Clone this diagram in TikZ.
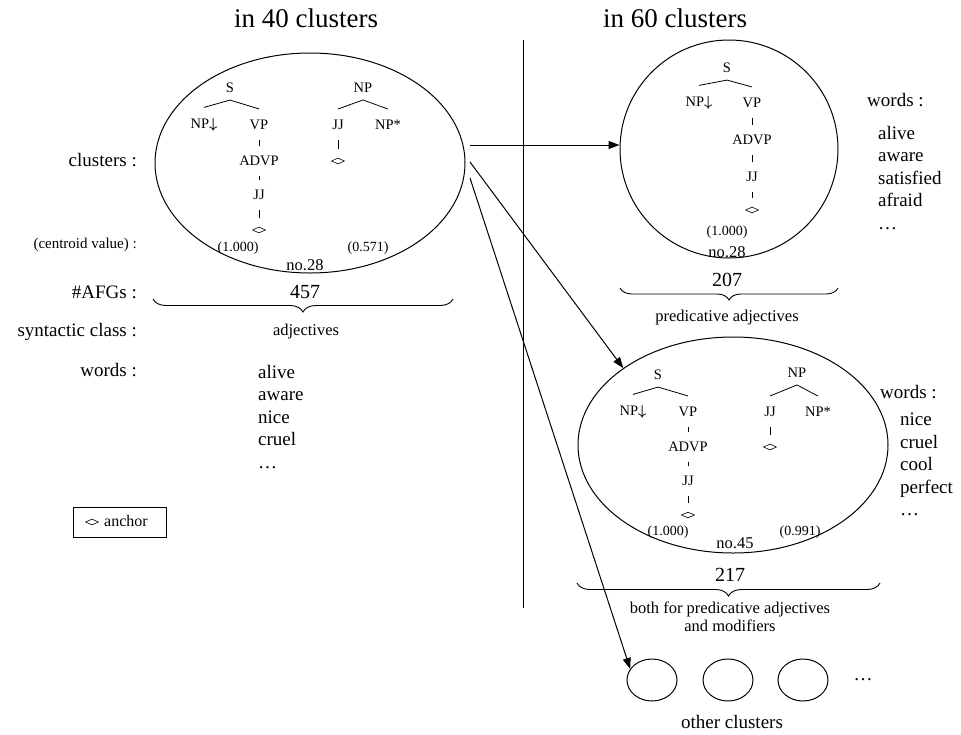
\documentclass[tikz,border=0pt]{standalone}
\usepackage{amsmath}
\usepackage{fontspec}
\setmainfont{Liberation Serif}
\usetikzlibrary{shapes.geometric,arrows.meta,decorations.pathreplacing}

\newcommand{\subst}{$\boldsymbol{\downarrow}$}

\tikzset{
  tl/.style={inner sep=1pt, font=\fontsize{14.5}{16}\selectfont},
  cv/.style={inner sep=1pt, font=\fontsize{14}{16}\selectfont},
  nolbl/.style={inner sep=1pt, font=\fontsize{16.5}{18}\selectfont},
  lbl/.style={anchor=east, inner sep=0pt, font=\fontsize{19}{22}\selectfont},
  txt/.style={inner sep=0pt, font=\fontsize{19}{22}\selectfont},
  num/.style={inner sep=0pt, font=\fontsize{20}{22}\selectfont},
  cls/.style={inner sep=0pt, align=center, font=\fontsize{16.5}{18.5}\selectfont},
  wlist/.style={anchor=north west, inner sep=0pt, align=left, font=\fontsize{19}{22.5}\selectfont},
  anc/.style={diamond, draw, aspect=2.4, minimum width=13pt, minimum height=6pt, inner sep=0pt, line width=0.6pt},
  roof/.style={line width=0.8pt},
  tick/.style={line width=0.6pt, shorten >=9pt, shorten <=9pt},
  clus/.style={ellipse, draw, line width=1pt, inner sep=0pt},
  brc/.style={decorate, decoration={brace, mirror, amplitude=13pt}, line width=0.9pt},
  arr/.style={-{Triangle[length=11pt,width=8pt]}, line width=1pt},
}

\begin{document}
\begin{tikzpicture}[x=1pt,y=-1pt]
\useasboundingbox (0,0) rectangle (961,734);

% titles and divider
\node[font=\fontsize{27}{30}\selectfont] (t40) at (306,18) {in 40 clusters};
\node[font=\fontsize{27}{30}\selectfont] (t60) at (675,18) {in 60 clusters};
\draw[line width=1pt] (523,40) -- (523,608);

% row labels
\node[lbl] (lclus) at (137,160) {clusters :};
\node[lbl, font=\fontsize{15}{17}\selectfont] (lcent) at (137,245) {(centroid value) :};
\node[lbl] (lafg) at (137,292) {\#AFGs :};
\node[lbl] (lsyn) at (137,332) {syntactic class :};
\node[lbl] (lwords) at (137,370) {words :};

% cluster no.28 of 40
\node[clus, minimum width=310pt, minimum height=220pt] (c40) at (310,163) {};
\node[tl] (s1) at (230,88) {S};
\node[tl] (npa1) at (204,125) {NP\subst};
\node[tl] (vp1) at (259,125) {VP};
\node[tl] (advp1) at (259,161) {ADVP};
\node[tl] (jj1) at (259,195) {JJ};
\node[anc] (an1) at (259,230) {};
\draw[roof] ([yshift=10pt]npa1.north) -- ([yshift=-6pt]s1.south) -- ([yshift=10pt]vp1.north);
\draw[tick] (vp1) -- (advp1);
\draw[tick] (advp1) -- (jj1);
\draw[tick] (jj1) -- (an1);
\node[tl] (np1) at (363,88) {NP};
\node[tl] (jj1b) at (338,125) {JJ};
\node[tl] (nps1) at (388,125) {NP*};
\node[anc] (an1b) at (338,161) {};
\draw[roof] ([yshift=10pt]jj1b.north) -- ([yshift=-6pt]np1.south) -- ([yshift=10pt]nps1.north);
\draw[tick] (jj1b) -- (an1b);
\node[cv] (cv1) at (238,248) {(1.000)};
\node[cv] (cv1b) at (368,248) {(0.571)};
\node[nolbl] (no1) at (305,265) {no.28};

\node[num] (n457) at (305,292) {457};
\draw[brc] (153,299) -- (453,299);
\node[cls] (adj) at (306,332) {adjectives};
\node[wlist] (w40) at (258,365) {alive\\aware\\nice\\cruel\\\ldots};

% legend
\node[draw, line width=0.8pt, minimum width=93pt, minimum height=30pt] (lgbox) at (119.5,522) {};
\node[anc] (lgd) at (92,522) {};
\node[anchor=west, inner sep=0pt, font=\fontsize{16}{18}\selectfont] (lgt) at (104,521) {anchor};

% cluster no.28 of 60
\node[clus, minimum width=218pt, minimum height=218pt] (c60a) at (729,149) {};
\node[tl] (s2) at (727,68) {S};
\node[tl] (npa2) at (699,103) {NP\subst};
\node[tl] (vp2) at (752,103) {VP};
\node[tl] (advp2) at (752,140) {ADVP};
\node[tl] (jj2) at (752,177) {JJ};
\node[anc] (an2) at (752,210) {};
\draw[roof] ([yshift=10pt]npa2.north) -- ([yshift=-6pt]s2.south) -- ([yshift=10pt]vp2.north);
\draw[tick] (vp2) -- (advp2);
\draw[tick] (advp2) -- (jj2);
\draw[tick] (jj2) -- (an2);
\node[cv] (cv2) at (727,232) {(1.000)};
\node[nolbl] (no2) at (727,252) {no.28};
\node[num] (n207) at (727,280) {207};
\draw[brc, decoration={amplitude=12pt}] (620,288) -- (838,288);
\node[cls] (pred) at (727,318) {predicative adjectives};
\node[txt, anchor=west] (wa) at (867,100) {words :};
\node[wlist] (w60a) at (878,126) {alive\\aware\\satisfied\\afraid\\\ldots};

% cluster no.45 of 60
\node[clus, minimum width=310pt, minimum height=216pt] (c60b) at (733,445) {};
\node[tl] (s3) at (658,375) {S};
\node[tl] (npa3) at (633,412) {NP\subst};
\node[tl] (vp3) at (688,412) {VP};
\node[tl] (advp3) at (688,447) {ADVP};
\node[tl] (jj3) at (688,481) {JJ};
\node[anc] (an3) at (688,515) {};
\draw[roof] ([yshift=10pt]npa3.north) -- ([yshift=-6pt]s3.south) -- ([yshift=10pt]vp3.north);
\draw[tick] (vp3) -- (advp3);
\draw[tick] (advp3) -- (jj3);
\draw[tick] (jj3) -- (an3);
\node[tl] (np3) at (797,373) {NP};
\node[tl] (jj3b) at (770,412) {JJ};
\node[tl] (nps3) at (818,412) {NP*};
\node[anc] (an3b) at (770,447) {};
\draw[roof] ([yshift=10pt]jj3b.north) -- ([yshift=-6pt]np3.south) -- ([yshift=10pt]nps3.north);
\draw[tick] (jj3b) -- (an3b);
\node[cv] (cv3) at (668,532) {(1.000)};
\node[cv] (cv3b) at (800,532) {(0.991)};
\node[nolbl] (no3) at (735,543) {no.45};
\node[num] (n217) at (730,575) {217};
\draw[brc] (577,583) -- (880,583);
\node[cls] (both) at (730,617) {both for predicative adjectives\\and modifiers};
\node[txt, anchor=west] (wb) at (880,392) {words :};
\node[wlist] (w60b) at (900,413) {nice\\cruel\\cool\\perfect\\\ldots};

% other clusters
\node[clus, minimum width=50pt, minimum height=42pt] (o1) at (652,680) {};
\node[clus, minimum width=50pt, minimum height=42pt] (o2) at (728,680) {};
\node[clus, minimum width=50pt, minimum height=42pt] (o3) at (803,680) {};
\node[txt] (odots) at (863,680) {\ldots};
\node[txt] (oth) at (732,722) {other clusters};

% splitting arrows
\coordinate (a1) at (470,145);
\coordinate (a2) at (470,162);
\coordinate (a3) at (470,178);
\draw[arr] (a1) -- (a1 -| c60a.west);
\draw[arr] (a2) -- (c60b.145);
\draw[arr] (a3) -- (o1.153);
\end{tikzpicture}
\end{document}
